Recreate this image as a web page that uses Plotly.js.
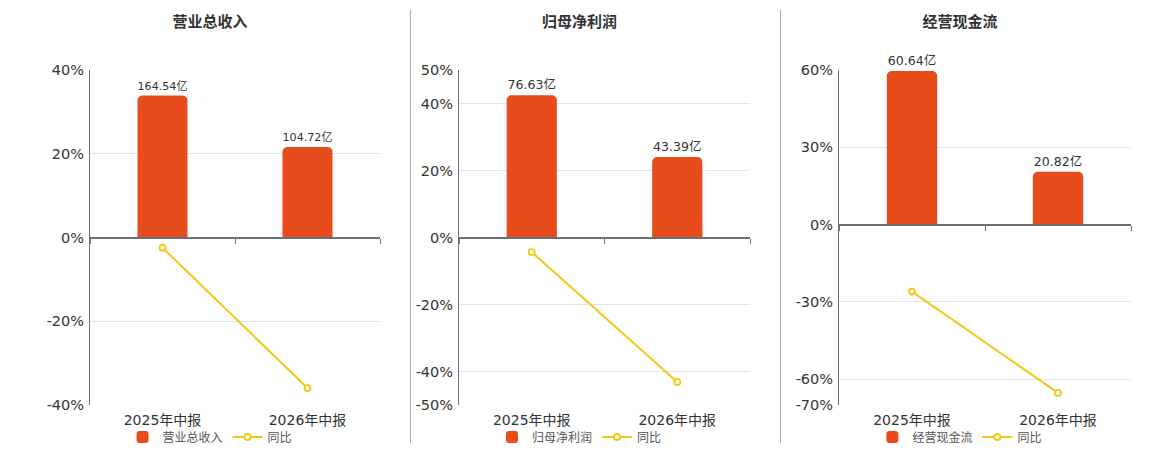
<!DOCTYPE html>
<html><head><meta charset="utf-8">
<script src="https://cdn.plot.ly/plotly-3.0.1.min.js"></script>
<style>
html,body{margin:0;padding:0;background:#fff;}
#wrap{position:relative;width:1160px;height:450px;overflow:hidden;}
.pan{position:absolute;top:0;height:450px;}
.sep{position:absolute;top:10px;height:433px;width:1px;background:#aaaaaa;}
</style></head>
<body><div id="wrap">
<div id="p1" class="pan" style="left:0;width:410px"></div>
<div id="p2" class="pan" style="left:410px;width:371px"></div>
<div id="p3" class="pan" style="left:781px;width:379px"></div>
<div class="sep" style="left:410px"></div>
<div class="sep" style="left:780px"></div>
</div>
<script>
const categories = ['2025年中报', '2026年中报'];
const titles = ['营业总收入', '归母净利润', '经营现金流'];
const revenue = [164.54, 104.72];
const revenueYoy = [-2.45, -35.95];
const netProfit = [76.63, 43.39];
const netProfitYoy = [-4.36, -43.1];
const cashFlow = [60.64, 20.82];
const cashFlowYoy = [-26.0, -65.3];
const yoyName = '同比';

const panels = [
  {id:'p1', w:410, name:titles[0], bars:revenue, yoy:revenueYoy, yr:[-40,40], tv:[-40,-20,0,20,40], y2r:[-194,194], l:90, r:30},
  {id:'p2', w:371, name:titles[1], bars:netProfit, yoy:netProfitYoy, yr:[-50,50], tv:[-50,-40,-20,0,20,40,50], y2r:[-90.2,90.2], l:49, r:31},
  {id:'p3', w:379, name:titles[2], bars:cashFlow, yoy:cashFlowYoy, yr:[-70,60], tv:[-70,-60,-30,0,30,60], y2r:[-71.2,61.03], l:58, r:29}
];
const FONT = "DejaVu Sans, Noto Sans CJK SC, sans-serif";
const CJK = "Noto Sans CJK SC, DejaVu Sans, sans-serif";
const BAR = '#e84c1c', LINE = '#f2c811', AX = '#6e7079', GRID = '#e0e6f1';

panels.forEach(p => {
  const zeroPos = (0 - p.yr[0]) / (p.yr[1] - p.yr[0]);
  const traces = [
    {type:'bar', x:categories, y:p.bars, name:p.name, yaxis:'y2',
     marker:{color:BAR, cornerradius:5},
     texttemplate:'%{y:.2f}亿', textposition:'outside', cliponaxis:false,
     textfont:{family:FONT, size:12.5, color:'#333'}, hoverinfo:'skip'},
    {type:'scatter', mode:'lines+markers', x:categories, y:p.yoy, name:yoyName,
     line:{color:LINE, width:2},
     marker:{color:'#ffffff', size:6, line:{color:LINE, width:1.8}}, hoverinfo:'skip'},
    {type:'scatter', mode:'markers', x:categories, y:[null,null], xaxis:'x2', yaxis:'y',
     showlegend:false, hoverinfo:'skip', marker:{opacity:0}}
  ];
  const layout = {
    width:p.w, height:450,
    margin:{l:p.l, r:p.r, t:70, b:45},
    paper_bgcolor:'rgba(0,0,0,0)', plot_bgcolor:'rgba(0,0,0,0)',
    font:{family:FONT, color:'#333'},
    title:{text:'<b>'+p.name+'</b>', font:{family:CJK, size:15, color:'#333'},
           xref:'paper', x:0.414, xanchor:'center', yref:'container', y:1-22/450, yanchor:'middle'},
    bargap:0.655,
    showlegend:true,
    legend:{orientation:'h', xref:'paper', x:0.414, xanchor:'center', yref:'container', y:1-437/450, yanchor:'middle',
            bgcolor:'rgba(0,0,0,0)',
            font:{family:CJK, size:12, color:'#555'}, itemwidth:30, traceorder:'normal'},
    xaxis:{type:'category', range:[-0.5,1.5], showline:false, showgrid:false, zeroline:false, ticks:'',
           ticklabelstandoff:5, automargin:false,
           tickfont:{family:FONT, size:14, color:'#333'}, fixedrange:true},
    xaxis2:{type:'linear', overlaying:'x', anchor:'free', position:zeroPos, side:'bottom', range:[-0.5,1.5],
            showline:true, linecolor:AX, linewidth:2, tickvals:[-0.5,0.5,1.5], ticks:'outside', ticklen:5,
            tickcolor:AX, tickwidth:1, showticklabels:false, showgrid:false, zeroline:false},
    yaxis:{range:p.yr, tickvals:p.tv, ticktext:p.tv.map(v=>v+'%'), showline:true, linecolor:AX, linewidth:1,
           automargin:false, ticklabelstandoff:2,
           gridcolor:GRID, gridwidth:1, zeroline:false, ticks:'', tickfont:{family:FONT, size:14.5, color:'#333'}},
    yaxis2:{range:p.y2r, overlaying:'y', visible:false, showgrid:false, zeroline:false}
  };
  Plotly.newPlot(p.id, traces, layout, {staticPlot:true, displayModeBar:false});
});
</script>
</body></html>
